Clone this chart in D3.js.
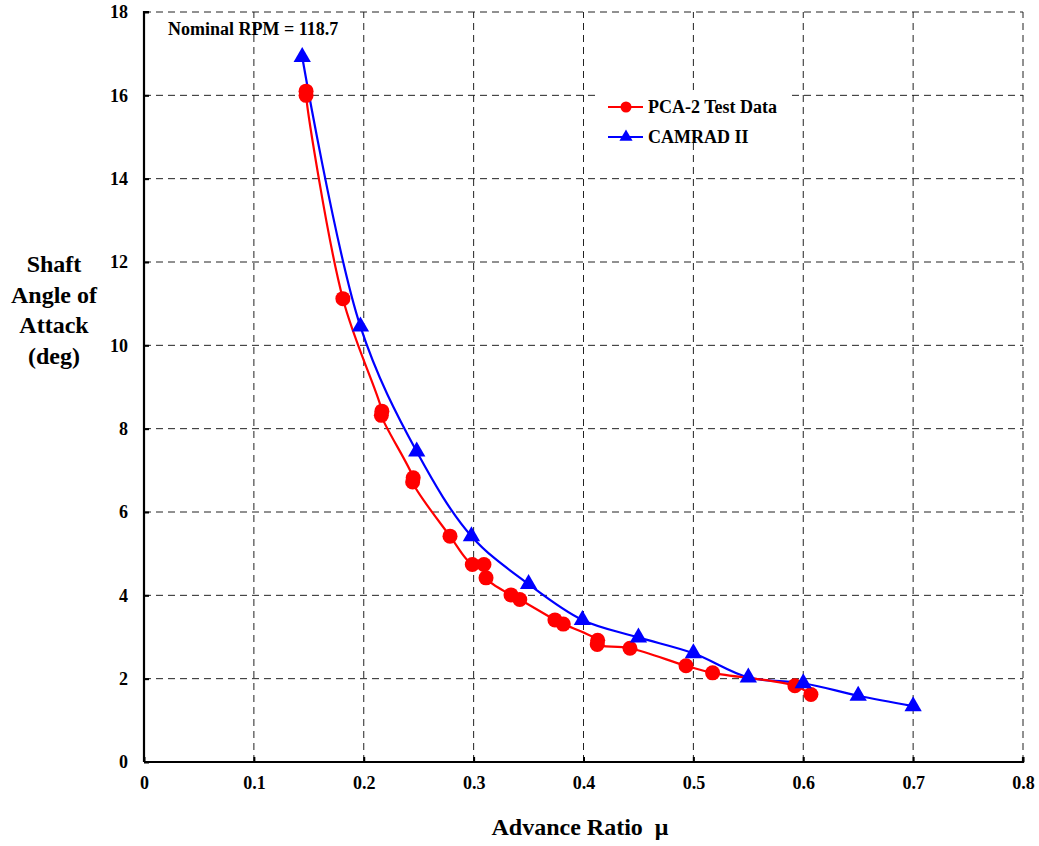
<!DOCTYPE html>
<html>
<head>
<meta charset="utf-8">
<script src="https://cdn.jsdelivr.net/npm/d3@7"></script>
<style>
  html, body { margin: 0; padding: 0; background: #fff; }
  svg { display: block; }
  text { font-family: "Liberation Serif", "Times New Roman", "DejaVu Serif", serif; font-weight: bold; fill: #000; }
</style>
</head>
<body>
<div id="chart"></div>
<script>
// ---- Data ----
const testMu    = [0.1475, 0.1475, 0.181, 0.2165, 0.2160, 0.245, 0.2445, 0.2785, 0.2988, 0.3094, 0.3113, 0.334, 0.342, 0.374, 0.3816, 0.4129, 0.4125, 0.4423, 0.4933, 0.5175, 0.5924, 0.607];
const testAlpha = [16.1,   16.0,   11.12, 8.42,   8.32,   6.82,  6.72,   5.42,   4.74,   4.74,   4.42,   4.01,  3.90,  3.41,  3.31,   2.92,   2.82,   2.73,   2.31,   2.14,   1.83,   1.62];

const camMu     = [0.144, 0.197, 0.2482, 0.298, 0.35, 0.399, 0.45, 0.5, 0.55, 0.6, 0.65, 0.7];
const camAlpha  = [16.92, 10.45, 7.45,   5.42,  4.27, 3.41,  2.99, 2.61, 2.03, 1.89, 1.59, 1.34];

const xTicks = [0, 0.1, 0.2, 0.3, 0.4, 0.5, 0.6, 0.7, 0.8];
const yTicks = [0, 2, 4, 6, 8, 10, 12, 14, 16, 18];
const seriesNames = ["PCA-2 Test Data", "CAMRAD II"];
const annotation = "Nominal RPM = 118.7";
const yTitleLines = ["Shaft", "Angle of", "Attack", "(deg)"];
const xTitle = "Advance Ratio  \u03bc";

// ---- Setup ----
const FONT = "'Liberation Serif', 'Times New Roman', serif";
const W = 1039, H = 846;
const svg = d3.select("#chart").append("svg").attr("width", W).attr("height", H);
const x = d3.scaleLinear().domain([0, 0.8]).range([144, 1023]);
const y = d3.scaleLinear().domain([0, 18]).range([762, 12]);

// Gridlines
const grid = svg.append("g").attr("stroke", "#222").attr("stroke-width", 1).attr("stroke-dasharray", "7,5");
grid.selectAll("line.v").data(xTicks.filter(d => d > 0)).enter().append("line")
  .attr("x1", d => x(d)).attr("x2", d => x(d)).attr("y1", y(0)).attr("y2", y(18));
grid.selectAll("line.h").data(yTicks.filter(d => d > 0)).enter().append("line")
  .attr("x1", x(0)).attr("x2", x(0.8)).attr("y1", d => y(d)).attr("y2", d => y(d));

// Axes
const xAxis = d3.axisBottom(x).tickValues(xTicks).tickSize(-5).tickPadding(14).tickFormat(d => d === 0 ? "0" : d3.format(".1f")(d));
const yAxis = d3.axisLeft(y).tickValues(yTicks).tickSize(-5).tickPadding(16).tickFormat(d3.format("d"));

const gx = svg.append("g").attr("transform", `translate(0,${y(0)})`).call(xAxis);
const gy = svg.append("g").attr("transform", `translate(${x(0)},0)`).call(yAxis);
[gx, gy].forEach(g => {
  g.attr("font-family", null).attr("font-size", null);
  g.select(".domain").attr("stroke", "#000").attr("stroke-width", 2.2);
  g.selectAll(".tick line").attr("stroke", "#000").attr("stroke-width", 2);
  g.selectAll(".tick text").style("font-family", FONT).style("font-weight", "bold").style("font-size", "18px").attr("fill", "#000");
});
gx.select(".domain").attr("d", `M${x(0)},0H${x(0.8)}V-5`);
gy.select(".domain").attr("d", `M-0,${y(0)}V${y(18)}H5`);

// Lines
const line = d3.line().x(d => x(d[0])).y(d => y(d[1])).curve(d3.curveCatmullRom.alpha(0.5));
const testData = testMu.map((m, i) => [m, testAlpha[i]]);
const camData = camMu.map((m, i) => [m, camAlpha[i]]);

svg.append("path").datum(camData).attr("d", line).attr("fill", "none").attr("stroke", "#0000ff").attr("stroke-width", 2.2);
svg.append("path").datum(testData).attr("d", line).attr("fill", "none").attr("stroke", "#ff0000").attr("stroke-width", 2.2);

// Markers
svg.selectAll("circle.test").data(testData).enter().append("circle")
  .attr("cx", d => x(d[0])).attr("cy", d => y(d[1])).attr("r", 7.5).attr("fill", "#ff0000");
const tri = d3.symbol().type(d3.symbolTriangle).size(130);
svg.selectAll("path.cam").data(camData).enter().append("path")
  .attr("d", tri).attr("transform", d => `translate(${x(d[0])},${y(d[1])})`).attr("fill", "#0000ff");

// Legend
const lg = svg.append("g");
lg.append("rect").attr("x", 596).attr("y", 93).attr("width", 194).attr("height", 50).attr("fill", "#fff");
const legendY = [107, 137];
const legendCol = ["#ff0000", "#0000ff"];
seriesNames.forEach((name, i) => {
  lg.append("line").attr("x1", 608).attr("x2", 643).attr("y1", legendY[i]).attr("y2", legendY[i])
    .attr("stroke", legendCol[i]).attr("stroke-width", 2.2);
  if (i === 0) {
    lg.append("circle").attr("cx", 626).attr("cy", legendY[i]).attr("r", 5.5).attr("fill", legendCol[i]);
  } else {
    lg.append("path").attr("d", d3.symbol().type(d3.symbolTriangle).size(75))
      .attr("transform", `translate(626,${legendY[i]})`).attr("fill", legendCol[i]);
  }
  lg.append("text").attr("x", 648).attr("y", legendY[i] + 6).style("font-size", "18px").text(name);
});

// Annotation
svg.append("text").attr("x", 168).attr("y", 35).style("font-size", "18px").text(annotation);

// Y title
const yt = svg.append("text").attr("text-anchor", "middle").style("font-size", "24px");
yTitleLines.forEach((t, i) => {
  yt.append("tspan").attr("x", 54).attr("y", 272 + i * 30.5).text(t);
});

// X title
svg.append("text").attr("x", 580).attr("y", 835).attr("text-anchor", "middle").style("font-size", "24px").style("white-space", "pre").text(xTitle);
</script>
</body>
</html>
